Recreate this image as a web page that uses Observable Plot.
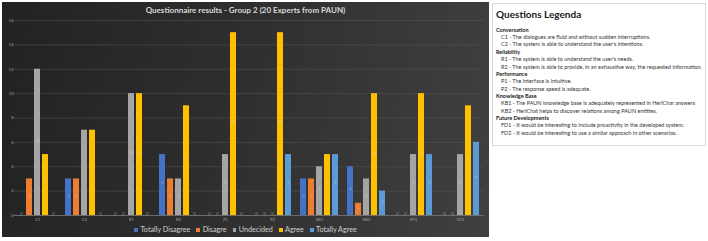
<!DOCTYPE html>
<html><head><meta charset="utf-8">
<script src="https://cdn.jsdelivr.net/npm/d3@7"></script>
<script src="https://cdn.jsdelivr.net/npm/@observablehq/plot@0.6"></script>
<style>
body{margin:0;width:708px;height:241px;background:#fff;position:relative;overflow:hidden;font-family:Lato,"Open Sans",sans-serif;}
#panel{position:absolute;left:2px;top:2px;width:487px;height:235px;background:linear-gradient(100deg,#222 0%,#2e2e2e 45%,#404040 100%);overflow:hidden;}
#title{position:absolute;left:0;top:3px;width:100%;text-align:center;color:#d9d9d9;font-weight:bold;font-size:8px;line-height:10px;}
#chart{position:absolute;left:0;top:0;}
#legend{position:absolute;left:0;top:223px;width:100%;display:flex;justify-content:center;gap:6px;color:#d0d0d0;font-size:7.2px;line-height:10px;}
#legend span.sw{display:inline-block;width:3.8px;height:3.8px;margin-right:2.5px;vertical-align:middle;position:relative;top:-0.5px;}
#qbox{position:absolute;left:492px;top:3px;width:212px;height:141px;border:1px solid #d9d9d9;background:#fff;color:#333;}
#qbox h1{margin:0;position:absolute;left:3px;top:3.5px;font-size:10px;line-height:13px;font-weight:bold;color:#1a1a1a;}
#qlist{position:absolute;left:3px;top:22.8px;font-size:5.5px;line-height:7.35px;white-space:nowrap;}
#qlist .hd{font-weight:bold;color:#1a1a1a;}
#qlist .it{padding-left:5px;}
</style></head><body>
<div id="panel"><div id="chart"></div><div id="title"></div><div id="legend"></div></div>
<div id="qbox"><h1>Questions Legenda</h1><div id="qlist"></div></div>
<script>
const chartTitle = "Questionnaire results - Group 2 (20 Experts from PAUN)";
const questions = ["C1","C2","R1","R2","P1","P2","KB1","KB2","FD1","FD2"];
const answers = ["Totally Disagree","Disagre","Undecided","Agree","Totally Agree"];
const totallyDisagree = [0,3,0,5,0,0,3,4,0,0];
const disagree        = [3,3,0,3,0,0,3,1,0,0];
const undecided       = [12,7,10,3,5,0,4,3,5,5];
const agree           = [5,7,10,9,15,15,5,10,10,9];
const totallyAgree    = [0,0,0,0,0,5,5,2,5,6];
const yTicks = [0,2,4,6,8,10,12,14,16];
const answerColors = ["#4472C4","#ED7D31","#A5A5A5","#FFC000","#5B9BD5"];

const groups = ["Conversation","Reliability","Performance","Knowledge Base","Future Developments"];
const groupItems = [
  ["C1 - The dialogues are fluid and without sudden interruptions.","C2 - The system is able to understand the user's intentions."],
  ["R1 - The system is able to understand the user's needs.","R2 - The system is able to provide, in an exhaustive way, the requested information."],
  ["P1 - The interface is intuitive.","P2 - The response speed is adequate."],
  ["KB1 - The PAUN knowledge base is adequately represented in HeriChar answers","KB2 -  HeriChat helps to discover relations among PAUN entities."],
  ["FD1 - It would be interesting to include proactivity in the developed system.","FD2 - It would be interesting to use a similar approach in other scenarios."]
];

const series = [totallyDisagree, disagree, undecided, agree, totallyAgree];
const rows = questions.flatMap((q, i) => answers.map((a, j) => ({q, a, v: series[j][i]})));

document.getElementById("title").textContent = chartTitle;

const gapHalf = -3.55;
const chart = Plot.plot({
  width: 487, height: 224,
  marginTop: 18, marginBottom: 11, marginLeft: 11, marginRight: 5,
  style: {background: "transparent", color: "#a6a6a6", fontSize: "4px", fontFamily: "Lato, sans-serif", overflow: "visible"},
  fx: {domain: questions, paddingInner: 0.15, paddingOuter: 0.075, label: null, axis: "bottom", tickSize: 0, tickPadding: 3},
  x: {domain: answers, paddingInner: 0.2, paddingOuter: 0, axis: null},
  y: {domain: [0, 16], ticks: yTicks, label: null, tickSize: 0, tickPadding: 4},
  color: {domain: answers, range: answerColors},
  marks: [
    Plot.gridY(yTicks, {stroke: "#5a5a5a", strokeOpacity: 0.8, strokeWidth: 0.6, insetLeft: gapHalf, insetRight: gapHalf}),
    Plot.barY(rows, {fx: "q", x: "a", y: "v", fill: "a"}),
    Plot.ruleY([0], {stroke: "#777", strokeWidth: 0.8, insetLeft: gapHalf, insetRight: gapHalf}),
    Plot.text(rows, {fx: "q", x: "a", y: d => d.v / 2, text: "v", dy: -2, fill: "#e0e0e0", fillOpacity: 0.55, fontSize: 4})
  ]
});
document.getElementById("chart").appendChild(chart);

const lg = document.getElementById("legend");
answers.forEach((a, j) => {
  const it = document.createElement("span");
  it.innerHTML = `<span class="sw" style="background:${answerColors[j]}"></span>${a}`;
  lg.appendChild(it);
});

const ql = document.getElementById("qlist");
groups.forEach((g, i) => {
  const h = document.createElement("div"); h.className = "hd"; h.textContent = g; ql.appendChild(h);
  groupItems[i].forEach(t => { const d = document.createElement("div"); d.className = "it"; d.textContent = t; ql.appendChild(d); });
});
</script>
</body></html>
